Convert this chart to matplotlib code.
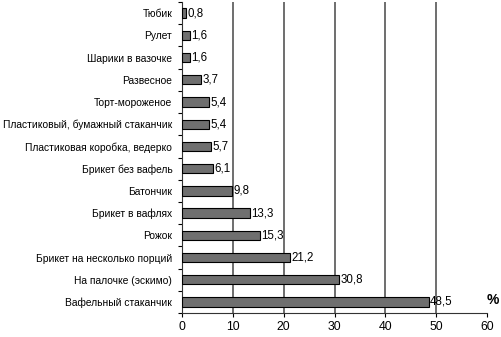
import numpy as np
import matplotlib
matplotlib.use("Agg")
import matplotlib.pyplot as plt

plt.rcParams['font.family'] = ['Liberation Sans', 'DejaVu Sans']

# packaging types, top to bottom
labels = ['Тюбик', 'Рулет', 'Шарики в вазочке', 'Развесное', 'Торт-мороженое',
          'Пластиковый, бумажный стаканчик', 'Пластиковая коробка, ведерко',
          'Брикет без вафель', 'Батончик', 'Брикет в вафлях', 'Рожок',
          'Брикет на несколько порций', 'На палочке (эскимо)', 'Вафельный стаканчик']
values = [0.8, 1.6, 1.6, 3.7, 5.4, 5.4, 5.7, 6.1, 9.8, 13.3, 15.3, 21.2, 30.8, 48.5]
xticks = [0, 10, 20, 30, 40, 50, 60]

fig = plt.figure(figsize=(5.02, 3.37), dpi=100)
ax = fig.add_axes([0.3625, 0.071, 0.608, 0.923])

n = len(labels)
y = np.arange(n)
ax.barh(y, values, height=0.42, color='#6f6f6f', edgecolor='black', linewidth=0.8, zorder=3)
for yi, v in zip(y, values):
    ax.text(v + 0.3, yi, f'{v:.1f}'.replace('.', ','), va='center', ha='left',
            fontsize=8.3, zorder=4)

ax.set_xlim(0, 60)
ax.set_ylim(n - 0.5, -0.5)
ax.set_xticks(xticks)
ax.set_xticklabels([str(t) for t in xticks], fontsize=8.8)
ax.set_yticks(y)
ax.set_yticklabels(labels, fontsize=7.4)
ax.set_yticks(np.arange(n + 1) - 0.5, minor=True)
ax.tick_params(axis='y', which='major', length=0, pad=7)
ax.tick_params(axis='y', which='minor', length=3, width=0.8)
ax.tick_params(axis='x', length=3, width=0.8, pad=3)

for t in xticks[1:-1]:
    ax.axvline(t, color='#555555', linewidth=1.2, zorder=1)

for s in ['top', 'right']:
    ax.spines[s].set_visible(False)
for s in ['left', 'bottom']:
    ax.spines[s].set_linewidth(0.8)
    ax.spines[s].set_color('#333333')

fig.text(0.982, 0.11, '%', fontsize=10, fontweight='bold', ha='center', va='center')

fig.savefig('out.png', dpi=100)
